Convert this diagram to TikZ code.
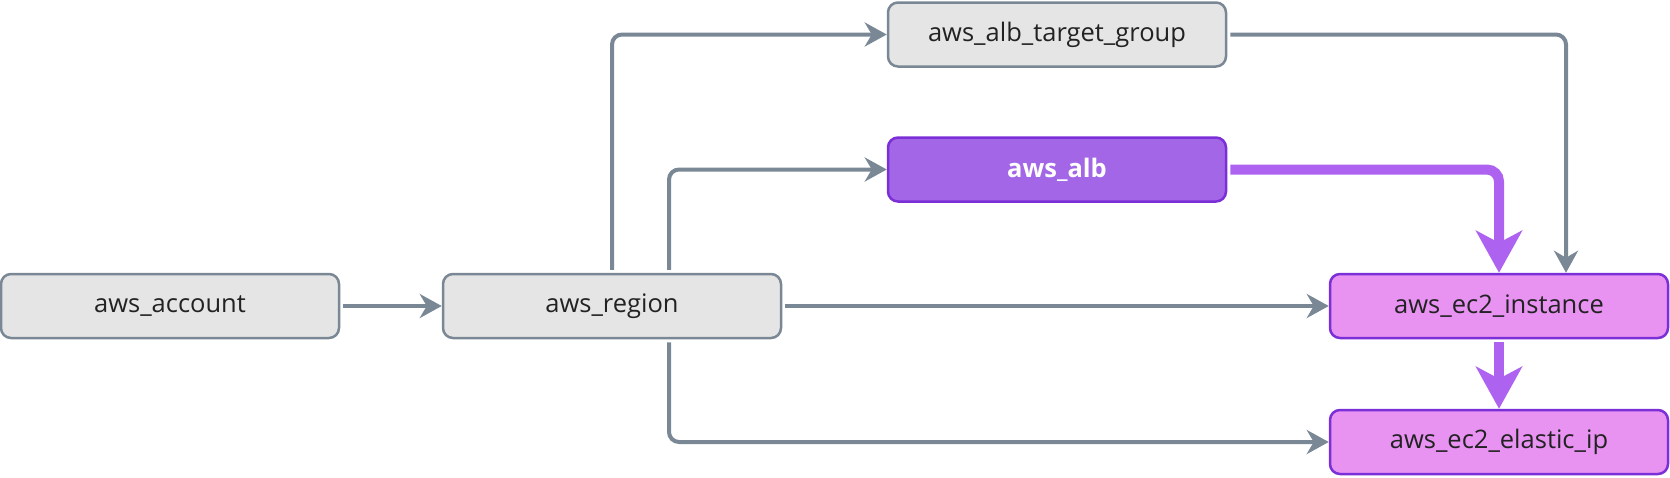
\documentclass[tikz,border=0pt]{standalone}
\usepackage{fontspec}
\setmainfont{Open Sans}
\usetikzlibrary{arrows.meta,calc}
\definecolor{gfill}{HTML}{E5E5E5}
\definecolor{gline}{HTML}{7A8896}
\definecolor{pline}{HTML}{7B2FD6}
\definecolor{albfill}{HTML}{A366E6}
\definecolor{ecfill}{HTML}{E892F2}
\definecolor{pedge}{HTML}{AE63F0}
\definecolor{tdark}{HTML}{222222}
\tikzset{
  box/.style={rectangle, rounded corners=10pt, minimum width=338pt, minimum height=64pt,
    line width=2.5pt, inner sep=0pt, font=\fontsize{25.5}{30}\selectfont, text=tdark},
  graybox/.style={box, draw=gline, fill=gfill},
  albbox/.style={box, draw=pline, fill=albfill, text=white, font=\fontsize{25.5}{30}\selectfont\bfseries},
  ecbox/.style={box, draw=pline, fill=ecfill},
  gedge/.style={draw=gline, line width=4pt, rounded corners=10pt, shorten <=3pt,
    -{Stealth[length=22pt,width=24pt,inset=7pt]}},
  pedge/.style={draw=pedge, line width=10pt, rounded corners=12pt, shorten <=3pt,
    -{Stealth[length=42pt,width=46pt,inset=12pt]}}
}
\begin{document}
\begin{tikzpicture}[x=1pt,y=-1pt]
\useasboundingbox (0,0) rectangle (1670,477);
\node[graybox] (acct) at (170,306) {aws\_account};
\node[graybox] (region) at (612,306) {aws\_region};
\node[graybox] (tg) at (1057,34.5) {aws\_alb\_target\_group};
\node[albbox] (alb) at (1057,169.5) {aws\_alb};
\node[ecbox] (ec2) at (1499,306) {aws\_ec2\_instance};
\node[ecbox] (eip) at (1499,442) {aws\_ec2\_elastic\_ip};
\draw[gedge] (acct.east) -- (region.west);
\draw[gedge] (region.north) |- (tg.west);
\draw[gedge] ([xshift=57pt]region.north) |- (alb.west);
\draw[gedge] (region.east) -- (ec2.west);
\draw[gedge] ([xshift=57pt]region.south) |- (eip.west);
\draw[gedge] (tg.east) -| ([xshift=67pt]ec2.north);
\draw[pedge] (alb.east) -| (ec2.north);
\draw[pedge] (ec2.south) -- (eip.north);
\end{tikzpicture}
\end{document}
